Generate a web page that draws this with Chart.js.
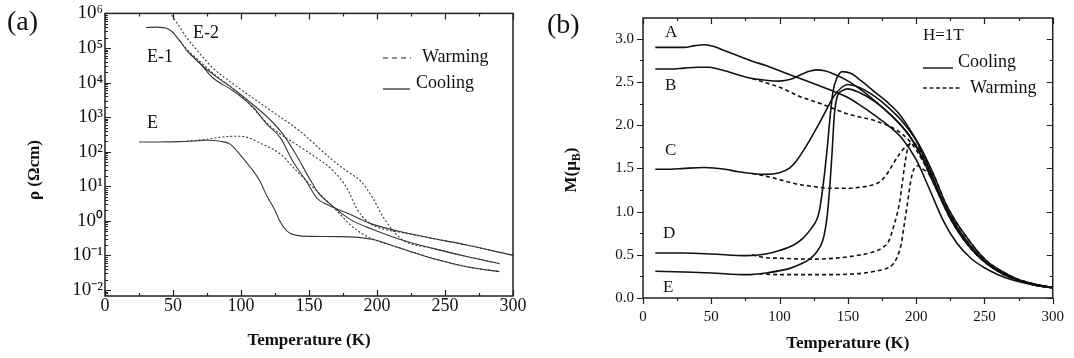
<!DOCTYPE html>
<html lang="en">
<head>
<meta charset="UTF-8">
<title>Resistivity and magnetization vs temperature</title>
<script src="https://cdn.jsdelivr.net/npm/chart.js"></script>
<style>
    html, body { margin: 0; padding: 0; background: #fff; }
    #wrap { position: relative; width: 1074px; height: 358px; }
    .panel { position: absolute; top: 0; width: 537px; height: 358px; }
    #panelA { left: 0; }
    #panelB { left: 537px; }
</style>
</head>
<body>
<div id="wrap">
    <div class="panel" id="panelA"><canvas id="chartA"></canvas></div>
    <div class="panel" id="panelB"><canvas id="chartB"></canvas></div>
</div>
<script>
// ---------- panel (a): resistivity (Ohm cm) vs temperature (K) ----------
const aXLabels = [0, 50, 100, 150, 200, 250, 300];
const aYDecades = [-2, -1, 0, 1, 2, 3, 4, 5, 6];

const tRhoE1Cool = [30, 38, 46, 50, 53, 57, 60, 65, 70, 79, 94, 109, 119, 129, 138, 148, 156, 163, 180, 197, 217, 241, 266, 300];
const rhoE1Cool = [3.9e5, 4.0e5, 3.6e5, 2.8e5, 2.0e5, 1.26e5, 8.5e4, 5.4e4, 3.5e4, 1.4e4, 5.8e3, 1.9e3, 630, 250, 54, 14, 4.5, 3.0, 1.55, 0.79, 0.49, 0.31, 0.2, 0.1];
const tRhoE1Warm = [55, 60, 70, 80, 100, 123, 148, 168, 178, 185, 193, 202, 217, 241, 266, 300];
const rhoE1Warm = [1.6e5, 9.3e4, 4.0e4, 1.8e4, 4.2e3, 490, 105, 27.5, 8.7, 2.3, 0.95, 0.62, 0.47, 0.31, 0.2, 0.1];
const tRhoE2Cool = [62, 70, 80, 95, 110, 120, 130, 140, 150, 157, 165, 180, 197, 217, 241, 266, 290];
const rhoE2Cool = [7.1e4, 3.5e4, 1.66e4, 6.3e3, 2.1e3, 950, 355, 89, 17.8, 6.3, 3.2, 1.12, 0.56, 0.29, 0.16, 0.093, 0.058];
const tRhoE2Warm = [49, 55, 60, 68, 79, 94, 119, 143, 168, 180, 188, 197, 204, 210, 215, 221, 241, 266, 290];
const rhoE2Warm = [8.9e5, 4.0e5, 2.0e5, 8.3e4, 2.7e4, 9.3e3, 1.86e3, 400, 54, 24, 14, 4.5, 1.4, 0.63, 0.38, 0.25, 0.16, 0.093, 0.058];
const tRhoECool = [25, 40, 55, 65, 75, 85, 92, 100, 107, 114, 119, 124, 128, 132, 136, 141, 150, 173, 197, 210, 232, 241, 266, 290];
const rhoECool = [190, 190, 195, 204, 214, 200, 166, 76, 35, 14, 5.2, 2.4, 1.1, 0.6, 0.44, 0.38, 0.355, 0.35, 0.29, 0.2, 0.105, 0.081, 0.047, 0.034];
const tRhoEWarm = [60, 75, 90, 100, 107, 114, 129, 141, 156, 171, 180, 190, 202, 210, 232, 266, 290];
const rhoEWarm = [200, 230, 275, 280, 240, 178, 85, 27.5, 7.1, 1.86, 0.79, 0.40, 0.25, 0.2, 0.105, 0.047, 0.034];

// ---------- panel (b): magnetization (muB) vs temperature (K), H = 1 T ----------
const bXLabels = [0, 50, 100, 150, 200, 250, 300];
const bYLabels = [0.0, 0.5, 1.0, 1.5, 2.0, 2.5, 3.0];

const tMagACool = [9, 20, 30, 38, 45, 52, 60, 70, 80, 90, 100, 110, 120, 130, 140, 150, 160, 170, 180, 190, 200, 210, 220, 230, 240, 250, 260, 270, 280, 290, 300];
const magACool = [2.90, 2.90, 2.90, 2.92, 2.93, 2.91, 2.86, 2.80, 2.74, 2.69, 2.63, 2.57, 2.51, 2.45, 2.39, 2.32, 2.22, 2.11, 1.99, 1.84, 1.60, 1.25, 0.89, 0.63, 0.46, 0.35, 0.27, 0.21, 0.17, 0.14, 0.12];
const tMagBCool = [9, 20, 30, 40, 48, 55, 62, 70, 80, 90, 100, 108, 115, 121, 127, 133, 140, 148, 157, 166, 175, 185, 195, 205, 215, 225, 235, 245, 255, 265, 275, 287, 300];
const magBCool = [2.65, 2.65, 2.66, 2.67, 2.67, 2.65, 2.62, 2.58, 2.54, 2.52, 2.51, 2.53, 2.58, 2.62, 2.64, 2.63, 2.59, 2.53, 2.44, 2.33, 2.21, 2.06, 1.88, 1.60, 1.25, 0.92, 0.67, 0.49, 0.36, 0.27, 0.21, 0.16, 0.12];
const tMagBWarm = [80, 90, 100, 115, 130, 150, 170, 185, 195, 205, 215, 225, 235, 245, 255, 265, 275, 287, 300];
const magBWarm = [2.54, 2.49, 2.44, 2.33, 2.25, 2.13, 2.05, 1.95, 1.82, 1.58, 1.25, 0.92, 0.67, 0.49, 0.36, 0.27, 0.21, 0.16, 0.12];
const tMagCCool = [9, 20, 30, 45, 60, 70, 80, 90, 100, 107, 112, 118, 124, 130, 135, 140, 145, 150, 158, 170, 180, 190, 200, 210, 220, 230, 240, 250, 260, 270, 280, 290, 300];
const magCCool = [1.49, 1.49, 1.50, 1.51, 1.49, 1.46, 1.44, 1.43, 1.45, 1.50, 1.58, 1.72, 1.88, 2.05, 2.20, 2.34, 2.43, 2.47, 2.44, 2.33, 2.20, 2.04, 1.82, 1.48, 1.10, 0.80, 0.58, 0.42, 0.31, 0.24, 0.18, 0.14, 0.12];
const tMagCWarm = [80, 90, 100, 112, 125, 136, 148, 158, 166, 173, 178, 183, 188, 193, 197, 202, 210, 220, 230, 240, 250, 260, 270, 280, 290, 300];
const magCWarm = [1.44, 1.41, 1.37, 1.32, 1.29, 1.27, 1.27, 1.28, 1.30, 1.34, 1.42, 1.55, 1.67, 1.76, 1.78, 1.72, 1.48, 1.10, 0.80, 0.58, 0.42, 0.31, 0.24, 0.18, 0.14, 0.12];
const tMagDCool = [9, 30, 50, 76, 90, 100, 110, 117, 123, 127, 129, 131, 133, 135, 137, 139, 142, 146, 152, 160, 170, 180, 187, 195, 204, 213, 222, 230, 239, 246, 253, 265, 277, 290, 300];
const magDCool = [0.52, 0.52, 0.51, 0.49, 0.51, 0.55, 0.61, 0.69, 0.80, 0.90, 1.00, 1.20, 1.45, 1.75, 2.10, 2.38, 2.55, 2.62, 2.60, 2.51, 2.38, 2.25, 2.14, 1.96, 1.72, 1.42, 1.08, 0.86, 0.66, 0.52, 0.41, 0.29, 0.20, 0.15, 0.12];
const tMagDWarm = [80, 88, 100, 124, 140, 156, 168, 175, 180, 183, 186, 188, 190, 192, 194, 197, 202, 208, 213, 222, 230, 239, 246, 253, 265, 277, 290, 300];
const magDWarm = [0.50, 0.47, 0.46, 0.45, 0.46, 0.49, 0.53, 0.58, 0.66, 0.80, 0.97, 1.12, 1.35, 1.58, 1.74, 1.80, 1.74, 1.58, 1.42, 1.08, 0.86, 0.66, 0.52, 0.41, 0.29, 0.20, 0.15, 0.12];
const tMagECool = [9, 30, 50, 76, 90, 107, 115, 122, 127, 131.5, 133.5, 135, 137, 138.5, 140, 142, 146, 150, 158, 170, 180, 190, 200, 210, 220, 230, 240, 250, 260, 270, 280, 290, 300];
const magECool = [0.31, 0.30, 0.29, 0.27, 0.29, 0.34, 0.39, 0.45, 0.53, 0.66, 0.80, 0.97, 1.34, 1.70, 2.10, 2.32, 2.40, 2.42, 2.38, 2.27, 2.14, 1.98, 1.76, 1.45, 1.10, 0.82, 0.60, 0.43, 0.31, 0.23, 0.18, 0.14, 0.12];
const tMagEWarm = [85, 100, 130, 156, 170, 178, 183, 186, 189, 191, 193.5, 196, 198, 201, 204, 210, 220, 230, 240, 250, 260, 270, 280, 290, 300];
const magEWarm = [0.28, 0.27, 0.27, 0.28, 0.31, 0.34, 0.39, 0.47, 0.62, 0.82, 1.08, 1.35, 1.48, 1.53, 1.50, 1.42, 1.10, 0.82, 0.60, 0.43, 0.31, 0.23, 0.18, 0.14, 0.12];

const SERIF = "'Liberation Serif', 'Times New Roman', serif";
Chart.defaults.font.family = SERIF;
Chart.defaults.color = '#111';

function curve(ts, vs, dashed, st) {
    return {
        data: ts.map((t, i) => ({x: t, y: vs[i]})),
        borderColor: st.color,
        borderWidth: st.width,
        borderDash: dashed ? st.dash : [],
        pointRadius: 0,
        cubicInterpolationMode: 'monotone',
        fill: false
    };
}

// majors from the label arrays, one minor tick between each pair
function linearTicks(labels) {
    const out = [];
    labels.forEach((v, i) => {
        out.push({value: v});
        if (i < labels.length - 1) out.push({value: (v + labels[i + 1]) / 2});
    });
    return out;
}

function logTicks(decades, min, max) {
    const out = [];
    decades.concat([decades[0] - 1]).forEach(d => {
        for (let m = 1; m <= 9; m++) {
            const v = m * Math.pow(10, d);
            if (v >= min && v <= max * 1.0001) out.push({value: v});
        }
    });
    return out.sort((p, q) => p.value - q.value);
}

const SUP = {'-': '\u207B', '0': '\u2070', '1': '\u00B9', '2': '\u00B2', '3': '\u00B3', '4': '\u2074',
             '5': '\u2075', '6': '\u2076', '7': '\u2077', '8': '\u2078', '9': '\u2079'};
function isDecade(v) {
    const l = Math.log10(v);
    return Math.abs(l - Math.round(l)) < 1e-9;
}

function drawRotated(ctx, cx, cy, parts) {
    ctx.save();
    ctx.translate(cx, cy);
    ctx.rotate(-Math.PI / 2);
    ctx.textBaseline = 'middle';
    ctx.textAlign = 'left';
    let w = 0;
    parts.forEach(p => { ctx.font = p.font; p.w = ctx.measureText(p.s).width; w += p.w; });
    let x0 = -w / 2;
    parts.forEach(p => { ctx.font = p.font; ctx.fillText(p.s, x0, p.dy || 0); x0 += p.w; });
    ctx.restore();
}

// axis frame, tick marks and the annotations of each panel
function framePlugin(cfg) {
    return {
        id: 'frame' + cfg.name,
        afterDatasetsDraw(chart) {
            const {ctx, chartArea: a} = chart;
            const x = chart.scales.x, y = chart.scales.y;
            ctx.save();
            ctx.strokeStyle = '#222';
            ctx.lineWidth = 1.5;
            ctx.strokeRect(a.left, a.top, a.right - a.left, a.bottom - a.top);
            ctx.lineWidth = 1.2;
            ctx.beginPath();
            x.ticks.forEach(t => {
                const p = Math.round(x.getPixelForValue(t.value)) + 0.5;
                const len = cfg.majorX(t.value) ? 6 : 3;
                ctx.moveTo(p, a.bottom);
                ctx.lineTo(p, a.bottom + (cfg.bottomOut ? len : -len));
                ctx.moveTo(p, a.top);
                ctx.lineTo(p, a.top + len);
            });
            y.ticks.forEach(t => {
                const p = Math.round(y.getPixelForValue(t.value)) + 0.5;
                const len = cfg.majorY(t.value) ? 6 : 3;
                ctx.moveTo(a.left, p);
                ctx.lineTo(a.left + (cfg.leftOut ? -len : len), p);
                if (cfg.rightTicks) {
                    ctx.moveTo(a.right, p);
                    ctx.lineTo(a.right - len, p);
                }
            });
            ctx.stroke();

            ctx.fillStyle = '#111';
            ctx.textBaseline = 'alphabetic';
            ctx.textAlign = 'left';
            cfg.texts.forEach(t => {
                ctx.font = t.size + 'px ' + SERIF;
                ctx.fillText(t.s, t.x, t.y);
            });
            ctx.lineWidth = cfg.legendWidth;
            cfg.keys.forEach(k => {
                ctx.setLineDash(k.dash);
                ctx.beginPath();
                ctx.moveTo(k.x1, k.y);
                ctx.lineTo(k.x2, k.y);
                ctx.stroke();
            });
            ctx.setLineDash([]);
            drawRotated(ctx, cfg.yTitle.x, cfg.yTitle.y, cfg.yTitle.parts);
            ctx.restore();
        }
    };
}

function xTitle(pad) {
    return {display: true, text: 'Temperature (K)', color: '#111',
            font: {size: 17, weight: 'bold'}, padding: {top: 0, bottom: pad}};
}

const noGrid = {display: false, drawTicks: false};

// ---------- chart (a) ----------
const stA = {color: '#383838', width: 1.1, dash: [2, 2]};
const aYMin = 0.0067, aYMax = 1e6;

new Chart(document.getElementById('chartA'), {
    type: 'line',
    data: {
        datasets: [
            curve(tRhoE1Cool, rhoE1Cool, false, stA),
            curve(tRhoE1Warm, rhoE1Warm, true, stA),
            curve(tRhoE2Cool, rhoE2Cool, false, stA),
            curve(tRhoE2Warm, rhoE2Warm, true, stA),
            curve(tRhoECool, rhoECool, false, stA),
            curve(tRhoEWarm, rhoEWarm, true, stA)
        ]
    },
    options: {
        responsive: true,
        maintainAspectRatio: false,
        animation: false,
        events: [],
        layout: {padding: {left: 0, top: 13, right: 24, bottom: 0}},
        plugins: {legend: {display: false}, tooltip: {enabled: false}},
        scales: {
            x: {
                type: 'linear', min: 0, max: 300,
                grid: noGrid, border: {display: false},
                afterBuildTicks: s => { s.ticks = linearTicks(aXLabels); },
                afterFit: s => { s.height = 62; },
                ticks: {autoSkip: false, maxRotation: 0, padding: -1, font: {size: 18},
                        callback: v => aXLabels.includes(v) ? String(v) : ''},
                title: xTitle(7)
            },
            y: {
                type: 'logarithmic', min: aYMin, max: aYMax,
                grid: noGrid, border: {display: false},
                afterBuildTicks: s => { s.ticks = logTicks(aYDecades, aYMin, aYMax); },
                afterFit: s => { s.width = 105; },
                ticks: {autoSkip: false, padding: 2, font: {size: 19},
                        callback: v => isDecade(v)
                            ? '10' + String(Math.round(Math.log10(v))).split('').map(c => SUP[c]).join('')
                            : ''}
            }
        }
    },
    plugins: [framePlugin({
        name: 'A',
        majorX: v => aXLabels.includes(v),
        majorY: isDecade,
        bottomOut: false, leftOut: false, rightTicks: false,
        legendWidth: 1.2,
        texts: [
            {s: '(a)', x: 7, y: 30, size: 28},
            {s: 'E-2', x: 193, y: 38, size: 18},
            {s: 'E-1', x: 147, y: 62, size: 18},
            {s: 'E', x: 147, y: 128, size: 18},
            {s: 'Warming', x: 422, y: 62, size: 18},
            {s: 'Cooling', x: 416, y: 88, size: 18}
        ],
        keys: [
            {x1: 383, x2: 411, y: 58, dash: [5, 4]},
            {x1: 383, x2: 410, y: 89, dash: []}
        ],
        yTitle: {x: 35, y: 170, parts: [{s: '\u03C1 (\u03A9cm)', font: 'bold 17px ' + SERIF}]}
    })]
});

// ---------- chart (b) ----------
const stB = {color: '#111', width: 1.6, dash: [4, 3]};

new Chart(document.getElementById('chartB'), {
    type: 'line',
    data: {
        datasets: [
            curve(tMagACool, magACool, false, stB),
            curve(tMagBCool, magBCool, false, stB),
            curve(tMagBWarm, magBWarm, true, stB),
            curve(tMagCCool, magCCool, false, stB),
            curve(tMagCWarm, magCWarm, true, stB),
            curve(tMagDCool, magDCool, false, stB),
            curve(tMagDWarm, magDWarm, true, stB),
            curve(tMagECool, magECool, false, stB),
            curve(tMagEWarm, magEWarm, true, stB)
        ]
    },
    options: {
        responsive: true,
        maintainAspectRatio: false,
        animation: false,
        events: [],
        layout: {padding: {left: 0, top: 13, right: 20, bottom: 0}},
        plugins: {legend: {display: false}, tooltip: {enabled: false}},
        scales: {
            x: {
                type: 'linear', min: 0, max: 300,
                grid: noGrid, border: {display: false},
                afterBuildTicks: s => { s.ticks = linearTicks(bXLabels); },
                afterFit: s => { s.height = 60; },
                ticks: {autoSkip: false, maxRotation: 0, padding: 10, font: {size: 15},
                        callback: v => bXLabels.includes(v) ? String(v) : ''},
                title: xTitle(4)
            },
            y: {
                type: 'linear', min: 0, max: 3.24,
                grid: noGrid, border: {display: false},
                afterBuildTicks: s => { s.ticks = linearTicks(bYLabels); },
                afterFit: s => { s.width = 106; },
                ticks: {autoSkip: false, padding: 9, font: {size: 15},
                        callback: v => bYLabels.includes(v) ? v.toFixed(1) : ''}
            }
        }
    },
    plugins: [framePlugin({
        name: 'B',
        majorX: v => bXLabels.includes(v),
        majorY: v => bYLabels.includes(v),
        bottomOut: true, leftOut: true, rightTicks: true,
        legendWidth: 1.5,
        texts: [
            {s: '(b)', x: 10, y: 33, size: 28},
            {s: 'A', x: 128, y: 37, size: 17},
            {s: 'B', x: 128, y: 90, size: 17},
            {s: 'C', x: 128, y: 155, size: 17},
            {s: 'D', x: 126, y: 238, size: 17},
            {s: 'E', x: 126, y: 292, size: 17},
            {s: 'H=1T', x: 386, y: 40, size: 17},
            {s: 'Cooling', x: 421, y: 67, size: 18},
            {s: 'Warming', x: 433, y: 93, size: 18}
        ],
        keys: [
            {x1: 386, x2: 416, y: 68, dash: []},
            {x1: 386, x2: 425, y: 88, dash: [4, 2.5]}
        ],
        yTitle: {x: 35, y: 170, parts: [
            {s: 'M(\u03BC', font: 'bold 17px ' + SERIF},
            {s: 'B', font: 'bold 12px ' + SERIF, dy: 5},
            {s: ')', font: 'bold 17px ' + SERIF}
        ]}
    })]
});
</script>
</body>
</html>
